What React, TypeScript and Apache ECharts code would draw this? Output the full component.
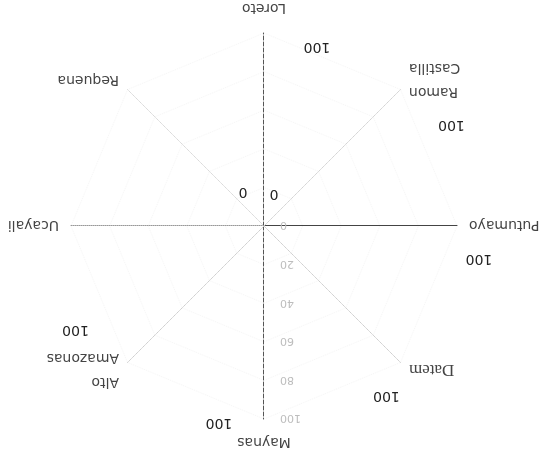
import React, { useEffect, useRef } from "react";
import * as echarts from "echarts";

// Indicators in ECharts order (counter-clockwise from the top, before the 180° turn)
const indicatorNames = [
  "Maynas",
  "Datem",
  "Putumayo",
  "Ramon\nCastilla",
  "Loreto",
  "Requena",
  "Ucayali",
  "Alto\nAmazonas",
];
const indicatorMax = [100, 100, 100, 100, 100, 100, 100, 100];
const seriesValues = [100, 100, 100, 100, 100, 0, 0, 100];
const axisTickValues = [0, 20, 40, 60, 80, 100];

// label placement per point (styling only)
const labelOffsets: [number, number][] = [
  [45, -5],
  [14, -35],
  [-22, -34],
  [-51, -36],
  [-53, -15],
  [21, 33],
  [-10, 31],
  [52, 31],
];
const axisColors = ["#555", "#cfcfcf", "#444", "#d4d4d4", "#555", "#dadada", "#999", "#cfcfcf"];
const axisTypes = ["dashed", "dotted", "solid", "dotted", "dashed", "dotted", "dotted", "dotted"];

export default function App() {
  const ref = useRef<HTMLDivElement>(null);
  useEffect(() => {
    if (!ref.current) return;
    const chart = echarts.init(ref.current, undefined, { renderer: "svg" });
    const indicator = indicatorNames.map((name, i) => {
      const ind: any = {
        name,
        min: axisTickValues[0],
        max: indicatorMax[i],
        axisLine: { lineStyle: { color: axisColors[i], type: axisTypes[i], width: 1 } },
      };
      if (i === 0) {
        ind.axisLabel = {
          show: true,
          color: "#bdbdbd",
          fontSize: 11,
          fontFamily: "DejaVu Sans",
          margin: 16,
        };
      }
      return ind;
    });
    chart.setOption({
      animation: false,
      backgroundColor: "#ffffff",
      radar: {
        center: [284, 226],
        radius: 193,
        startAngle: 90,
        splitNumber: axisTickValues.length - 1,
        shape: "polygon",
        indicator,
        axisName: {
          color: "#444",
          fontSize: 14,
          fontFamily: "DejaVu Sans",
          lineHeight: 24,
          formatter: (name: string) => (name === "Datem" ? `{serif|${name}}` : name),
          rich: {
            serif: { fontFamily: "Liberation Serif", fontSize: 17, color: "#444" },
          },
        },
        nameGap: 12,
        axisLabel: { show: false },
        axisTick: { show: false },
        axisLine: { lineStyle: { color: "#ccc", type: "dotted" } },
        splitLine: { lineStyle: { color: "#f6f6f6", type: "dotted" } },
        splitArea: { show: false },
      },
      series: [
        {
          type: "radar",
          symbol: "circle",
          symbolSize: 1,
          itemStyle: { color: "rgba(0,0,0,0)" },
          lineStyle: { width: 0, opacity: 0 },
          label: {
            show: true,
            position: "inside",
            color: "#222",
            fontSize: 14,
            fontFamily: "DejaVu Sans",
          },
          data: indicatorNames.map((n, i) => ({
            name: n,
            value: seriesValues.map((v, j) => (j === i ? v : "-")),
            label: { offset: labelOffsets[i] },
          })),
        },
      ],
    });
    return () => chart.dispose();
  }, []);
  return (
    <div
      style={{
        position: "fixed",
        left: 0,
        top: 0,
        width: 548,
        height: 452,
        background: "#fff",
        transform: "rotate(180deg)",
      }}
    >
      <div ref={ref} style={{ width: 548, height: 452 }} />
    </div>
  );
}
